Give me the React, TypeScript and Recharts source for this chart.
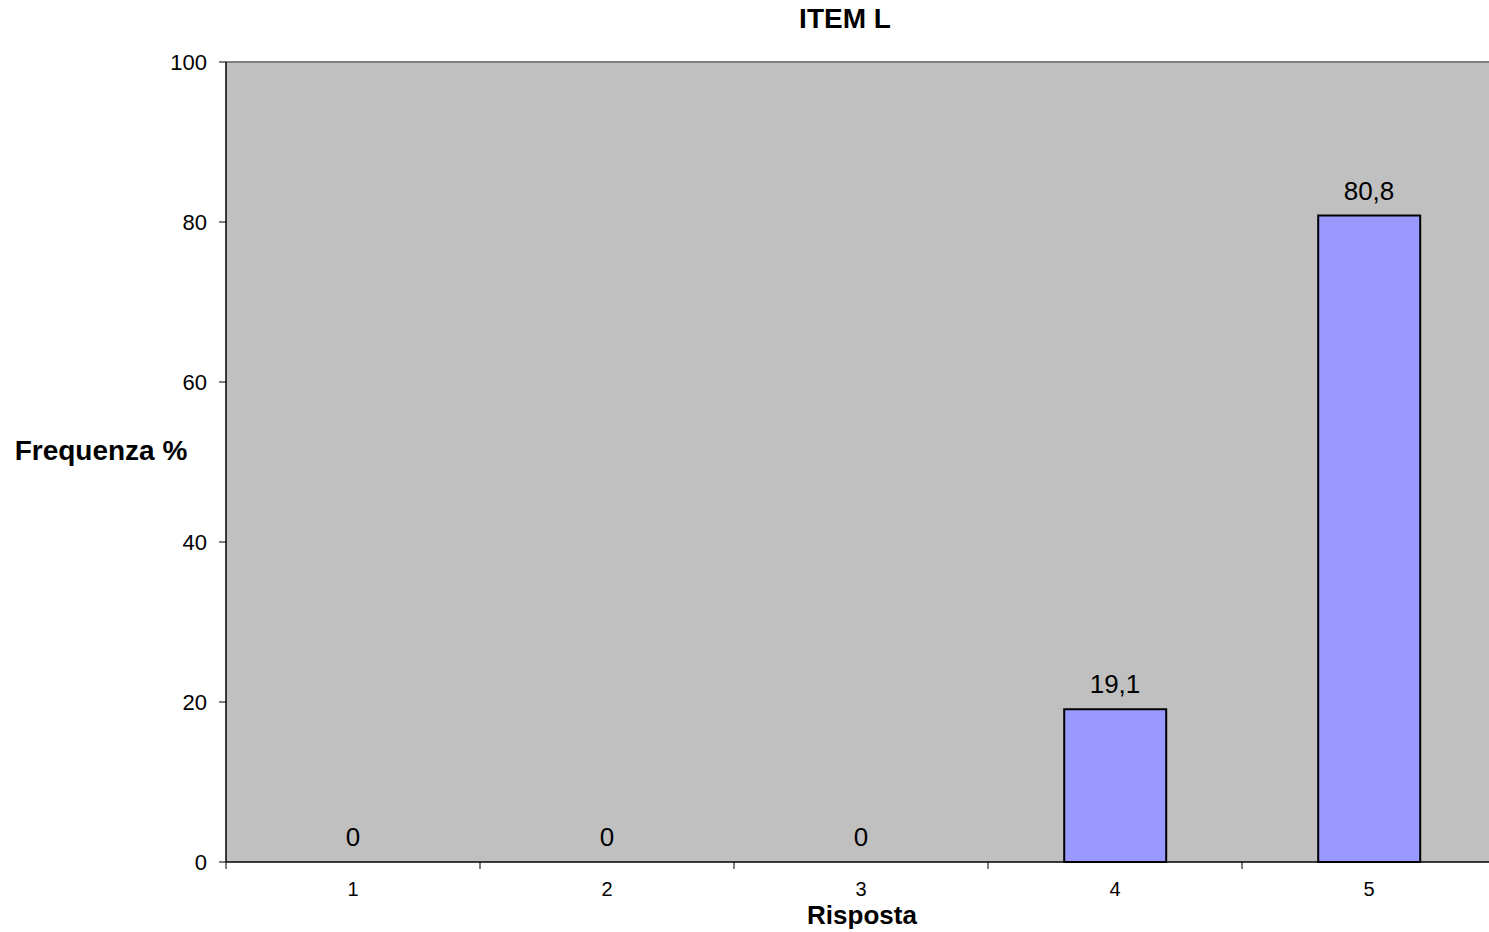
import { ComposedChart, Bar, Line, XAxis, YAxis, CartesianGrid, LabelList, Label, ReferenceLine } from "recharts";

const categories = ["1", "2", "3", "4", "5"];
const frequencies = [0, 0, 0, 19.1, 80.8];
const yTicks = [0, 20, 40, 60, 80, 100];

const data = categories.map((risposta, i) => ({ risposta, frequenza: frequencies[i] }));

const font = "'Liberation Sans', Arial, sans-serif";
const fmtComma = (v: any) => String(v).replace(".", ",");

const X_TICK_MARGIN = 20;
const X_TICK_LEN = 7;

// category label at the band centre, tick mark on the band edge (Excel style)
function CategoryTick(props: any) {
  const { x, y, payload, index } = props;
  const half = payload?.offset ?? 0;
  const axisY = y - X_TICK_MARGIN;
  return (
    <g>
      <line x1={x - half} x2={x - half} y1={axisY} y2={axisY + X_TICK_LEN} stroke="#000" />
      {index === categories.length - 1 && (
        <line x1={x + half} x2={x + half} y1={axisY} y2={axisY + X_TICK_LEN} stroke="#000" />
      )}
      <text x={x} y={y} dy="0.71em" textAnchor="middle" fontSize={20} fontFamily={font} fill="#000">
        {payload.value}
      </text>
    </g>
  );
}

export default function App() {
  return (
    <div
      style={{
        position: "absolute",
        left: 0,
        top: 0,
        width: 1489,
        height: 932,
        overflow: "hidden",
        background: "#fff",
        fontFamily: font,
      }}
    >
      <ComposedChart
        width={1496}
        height={932}
        data={data}
        margin={{ top: 62, right: 0, left: 166, bottom: 0 }}
        barCategoryGap="30%"
      >
        <CartesianGrid fill="#C0C0C0" horizontal={false} vertical={false} />
        <ReferenceLine y={100} stroke="#808080" strokeWidth={2} />
        <XAxis
          dataKey="risposta"
          height={70}
          interval={0}
          axisLine={{ stroke: "#000", strokeWidth: 1.5 }}
          tickLine={false}
          tickSize={0}
          tickMargin={X_TICK_MARGIN}
          tick={<CategoryTick />}
        >
          <Label
            content={() => (
              <text x={862} y={924} textAnchor="middle" fontSize={26} fontWeight="bold" fontFamily={font} fill="#000">
                Risposta
              </text>
            )}
          />
        </XAxis>
        <YAxis
          width={60}
          domain={[0, 100]}
          ticks={yTicks}
          interval={0}
          axisLine={{ stroke: "#000", strokeWidth: 1.5 }}
          tickSize={7}
          tickLine={{ stroke: "#000" }}
          tickMargin={12}
          tick={{ fill: "#000", fontSize: 22, fontFamily: font }}
        >
          <Label
            content={() => (
              <text x={101} y={460} textAnchor="middle" fontSize={28} fontWeight="bold" fontFamily={font} fill="#000">
                Frequenza %
              </text>
            )}
          />
        </YAxis>
        <Bar dataKey="frequenza" fill="#9999FF" stroke="#000" strokeWidth={2} isAnimationActive={false} />
        <Line
          dataKey="frequenza"
          stroke="none"
          dot={false}
          activeDot={false}
          legendType="none"
          isAnimationActive={false}
        >
          <LabelList
            dataKey="frequenza"
            position="top"
            offset={16}
            formatter={fmtComma}
            fill="#000"
            fontSize={26}
            fontFamily={font}
          />
        </Line>
        <text x={845} y={28} textAnchor="middle" fontSize={28} fontWeight="bold" fontFamily={font} fill="#000">
          ITEM L
        </text>
      </ComposedChart>
    </div>
  );
}
